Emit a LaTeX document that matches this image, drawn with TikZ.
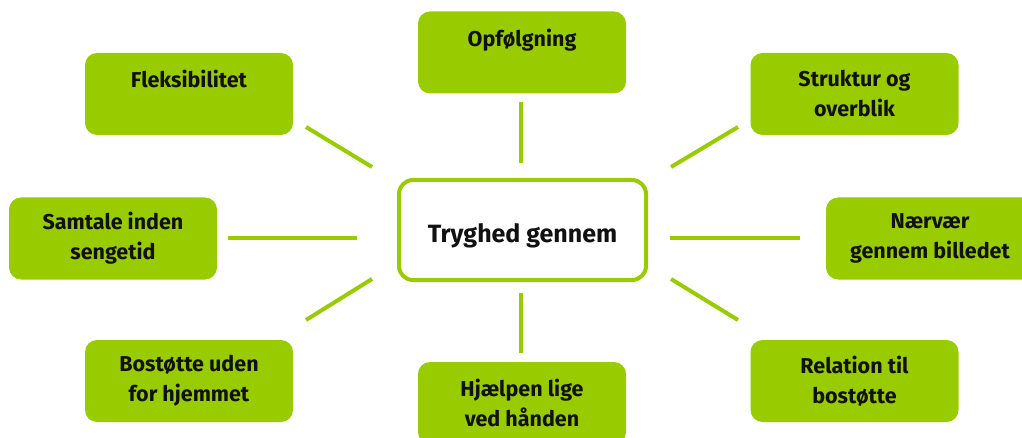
\documentclass[tikz,border=0pt]{standalone}
\usepackage{fontspec}
\setmainfont{Fira Sans}
\definecolor{lime}{HTML}{99CC00}
\definecolor{ink}{HTML}{111111}
\begin{document}
\begin{tikzpicture}[x=1pt,y=-1pt,
  leaf/.style={fill=lime, rounded corners=12pt, minimum width=208pt, minimum height=82pt,
    inner sep=0pt, align=center, text=ink, font=\fontsize{21.5}{30}\selectfont\bfseries},
  hub/.style={draw=lime, line width=4pt, fill=white, rounded corners=14pt, minimum width=247pt,
    minimum height=100pt, inner sep=0pt, text height=30pt, text depth=4pt, text=ink,
    font=\fontsize{25}{28}\selectfont\bfseries},
  link/.style={draw=lime, line width=4pt}]
\useasboundingbox (0,0) rectangle (1022,438);
\node[hub] (c) at (522.5,230) {Tryghed gennem};
\node[leaf] (opf) at (522,52.5) {Opfølgning\\\mbox{}};
\node[leaf] (fle) at (189,94) {Fleksibilitet\\\mbox{}};
\node[leaf] (str) at (854.5,94) {Struktur og\\overblik};
\node[leaf] (sam) at (113,238.5) {Samtale inden\\sengetid};
\node[leaf] (nae) at (930,238.5) {Nærvær\\gennem billedet};
\node[leaf] (bos) at (189,381) {Bostøtte uden\\for hjemmet};
\node[leaf] (hja) at (522,403) {Hjælpen lige\\ved hånden};
\node[leaf] (rel) at (854.5,381) {Relation til\\bostøtte};
% connector end points
\coordinate (t1) at (521,163); \coordinate (t2) at (521,102);
\coordinate (b1) at (521,293); \coordinate (b2) at (521,353);
\coordinate (l1) at (357,238); \coordinate (l2) at (228,238);
\coordinate (r1) at (670,238); \coordinate (r2) at (800,238);
\coordinate (ul1) at (372,167); \coordinate (ul2) at (306,127);
\coordinate (ur1) at (671,167); \coordinate (ur2) at (738,127);
\coordinate (ll1) at (372,279); \coordinate (ll2) at (306,320);
\coordinate (lr1) at (671,279); \coordinate (lr2) at (738,320);
\draw[link] (t1) -- (t2);
\draw[link] (b1) -- (b2);
\draw[link] (l1) -- (l2);
\draw[link] (r1) -- (r2);
\draw[link] (ul1) -- (ul2);
\draw[link] (ur1) -- (ur2);
\draw[link] (ll1) -- (ll2);
\draw[link] (lr1) -- (lr2);
\end{tikzpicture}
\end{document}
